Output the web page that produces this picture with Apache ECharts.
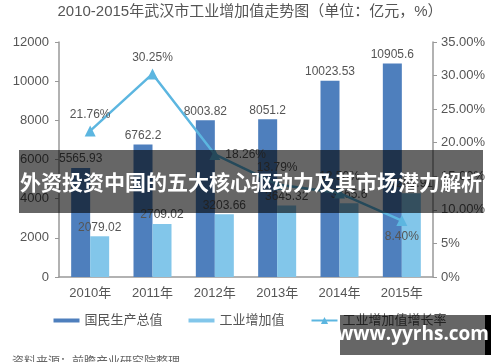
<!DOCTYPE html>
<html><head><meta charset="utf-8">
<script src="https://cdn.jsdelivr.net/npm/echarts@6/dist/echarts.min.js"></script>
<style>html,body{margin:0;padding:0;background:#fff}#c{width:500px;height:362px}</style>
</head><body><div id="c"></div>
<script>
var categories = ['2010年','2011年','2012年','2013年','2014年','2015年'];
var gdp = [5565.93, 6762.2, 8003.82, 8051.2, 10023.53, 10905.6];
var industry = [2079.02, 2709.02, 3203.66, 3645.32, 3765.6, 4281.91];
var growth = [21.76, 30.25, 18.26, 13.79, 12.5, 8.40];
var leftTicks = ['0','2000','4000','6000','8000','10000','12000'];
var rightTicks = ['0%','5%','10.00%','15.00%','20.00%','25.00%','30.00%','35.00%'];

var FONT = '"Liberation Sans", "Noto Sans CJK SC", sans-serif';
var chart = echarts.init(document.getElementById('c'));
var growthPos = ['top','top','right','top','top','bottom'];
chart.setOption({
  animation: false,
  textStyle: {fontFamily: FONT},
  title: {
    text: '2010-2015年武汉市工业增加值走势图（单位：亿元，%）',
    left: 'center', top: -1,
    textStyle: {fontSize: 15, fontWeight: 'normal', color: '#555', fontFamily: FONT}
  },
  legend: {
    bottom: 30, left: 'center', itemGap: 26,
    itemWidth: 26, itemHeight: 9,
    textStyle: {fontSize: 13, color: '#555', fontFamily: FONT},
    data: [
      {name: '国民生产总值', icon: 'path://M0,3 L26,3 L26,7 L0,7 Z'},
      {name: '工业增加值', icon: 'path://M0,3 L26,3 L26,7 L0,7 Z'},
      {name: '工业增加值增长率'}
    ]
  },
  grid: {left: 59, right: 67, top: 42, bottom: 85},
  xAxis: {
    type: 'category', data: categories,
    axisLine: {lineStyle: {color: '#999', width: 1.5}},
    axisTick: {show: false},
    axisLabel: {fontSize: 13, color: '#555', margin: 10}
  },
  yAxis: [
    {
      type: 'value', min: 0, max: 12000, interval: 2000,
      axisLine: {show: true, lineStyle: {color: '#999', width: 1.5}},
      axisTick: {show: true, length: 4, lineStyle: {color: '#999'}},
      splitLine: {show: false},
      axisLabel: {fontSize: 13, color: '#555', margin: 10,
        formatter: function (v) { return leftTicks[Math.round(v / 2000)]; }}
    },
    {
      type: 'value', min: 0, max: 35, interval: 5,
      axisLine: {show: true, lineStyle: {color: '#999', width: 1.5}},
      axisTick: {show: true, length: 4, lineStyle: {color: '#999'}},
      splitLine: {show: false},
      axisLabel: {fontSize: 13, color: '#555', margin: 8,
        formatter: function (v) { return rightTicks[Math.round(v / 5)]; }}
    }
  ],
  series: [
    {
      name: '国民生产总值', type: 'bar', data: gdp, barWidth: 19, barGap: '0%',
      itemStyle: {color: '#4e7fbd'},
      label: {show: true, position: 'top', fontSize: 12, color: '#555', distance: 3}
    },
    {
      name: '工业增加值', type: 'bar', data: industry, barWidth: 19,
      itemStyle: {color: '#82c6ea'},
      label: {show: true, position: 'top', fontSize: 12, color: '#555', distance: 3}
    },
    {
      name: '工业增加值增长率', type: 'line', yAxisIndex: 1,
      data: growth.map(function (v, i) {
        return {value: v, label: {position: growthPos[i]}};
      }),
      symbol: 'triangle', symbolSize: 11,
      lineStyle: {color: '#5cb6e0', width: 2.5},
      itemStyle: {color: '#5cb6e0'},
      label: {show: true, fontSize: 12, color: '#555', distance: 5,
        formatter: function (p) { return p.value.toFixed(2) + '%'; }},
      z: 5
    }
  ],
  graphic: [
    {type: 'rect', z: 100, shape: {x: 19, y: 150, width: 464, height: 63},
      style: {fill: 'rgba(0,0,0,0.6)'}},
    {type: 'text', z: 101, x: 251, y: 182,
      style: {text: '外资投资中国的五大核心驱动力及其市场潜力解析', fill: '#fff',
        font: 'bold 21px "Noto Sans CJK SC", sans-serif', align: 'center', verticalAlign: 'middle'}},
    {type: 'rect', z: 100, shape: {x: 340, y: 315, width: 145, height: 40},
      style: {fill: 'rgba(0,0,0,0.6)'}},
    {type: 'rect', z: 100, shape: {x: 485, y: 315, width: 6, height: 40},
      style: {fill: '#000'}},
    {type: 'text', z: 101, x: 413, y: 335,
      style: {text: 'www.yyrhs.com', fill: '#fff',
        font: 'bold 19px "Open Sans", "DejaVu Sans", sans-serif', align: 'center', verticalAlign: 'middle'}},
    {type: 'text', z: 101, left: 12, top: 355,
      style: {text: '资料来源：前瞻产业研究院整理', fill: '#666',
        font: '12px "Noto Sans CJK SC", sans-serif'}}
  ]
});
</script></body></html>
